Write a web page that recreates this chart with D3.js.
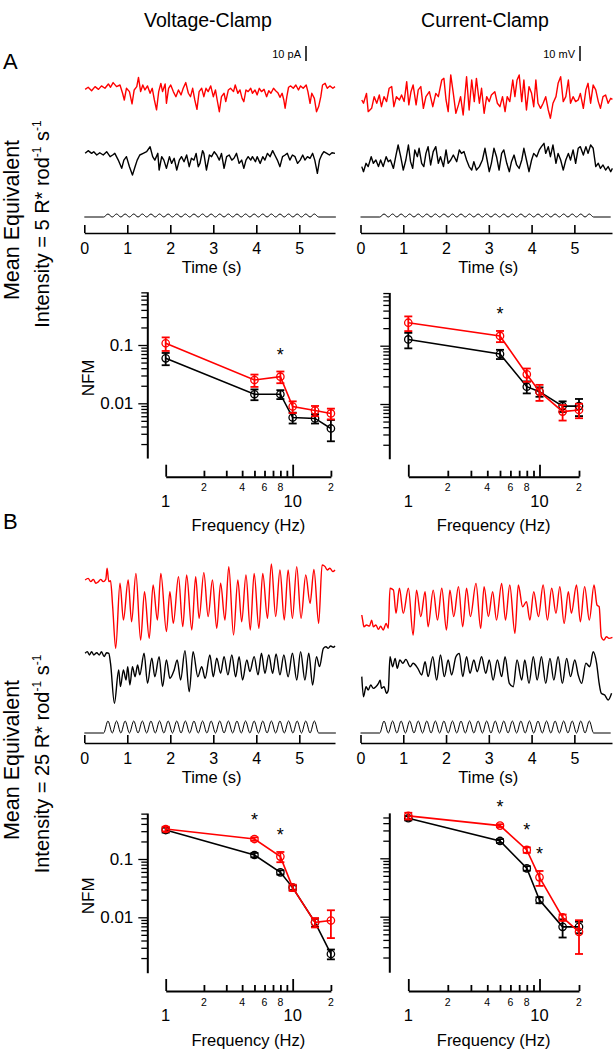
<!DOCTYPE html>
<html><head><meta charset="utf-8">
<script src="https://cdn.jsdelivr.net/npm/d3@7"></script>
<style>body{margin:0;background:#fff}text{font-family:"Liberation Sans",Arial,sans-serif;fill:#000}</style>
</head><body><script>
// ---------------- DATA ----------------
const freqs=[1,5,8,10,15,20];
const xTickVals=[1,2,3,4,5,6,7,8,9,10,20];
const xMinorLabels=[[2,"2"],[4,"4"],[6,"6"],[8,"8"],[20,"2"]];
const xMajorLabels=[[1,"1"],[10,"10"]];
const yLabels=[[0.1,"0.1"],[0.01,"0.01"]];
const timeTicks=[0,1,2,3,4,5];

const nfmVC5_black=[0.059,0.0143,0.0143,0.0057,0.0055,0.0037];
const semVC5_black=[0.014,0.003,0.0025,0.0012,0.001,0.00147];
const nfmVC5_red=[0.107,0.0251,0.0286,0.0088,0.0075,0.0067];
const semVC5_red=[0.028,0.006,0.0065,0.002,0.0015,0.0014];
const nfmCC5_black=[0.128,0.072,0.0198,0.0163,0.0092,0.0092];
const semCC5_black=[0.038,0.013,0.0046,0.003,0.0019,0.003];
const nfmCC5_red=[0.248,0.147,0.0323,0.0163,0.0074,0.0079];
const semCC5_red=[0.07,0.032,0.0083,0.005,0.0022,0.0022];
const nfmVC25_black=[0.314,0.117,0.059,0.0323,0.0082,0.00235];
const semVC25_black=[0.03,0.01,0.005,0.003,0.0013,0.00045];
const nfmVC25_red=[0.327,0.22,0.11,0.0323,0.0082,0.0088];
const semVC25_red=[0.03,0.015,0.022,0.004,0.0015,0.0044];
const nfmCC25_black=[0.485,0.198,0.0674,0.0193,0.0067,0.0067];
const semCC25_black=[0.04,0.015,0.006,0.0023,0.0023,0.0015];
const nfmCC25_red=[0.532,0.363,0.139,0.0472,0.0097,0.0055];
const semCC25_red=[0.07,0.02,0.015,0.0135,0.0012,0.0032];
const sigVC5=[8], sigCC5=[5], sigVC25=[5,8], sigCC25=[5,8,10];

// stimulus (relative units), time in s
const stimT=[0,0.45,0.55,0.65,0.75,0.85,0.95,1.05,1.15,1.25,1.35,1.45,1.55,1.65,1.75,1.85,1.95,2.05,2.15,2.25,2.35,2.45,2.55,2.65,2.75,2.85,2.95,3.05,3.15,3.25,3.35,3.45,3.55,3.65,3.75,3.85,3.95,4.05,4.15,4.25,4.35,4.45,4.55,4.65,4.75,4.85,4.95,5.05,5.15,5.25,5.35,5.45,5.85];
const stimV=[0,0,1,0,1,0,1,0,1,0,1,0,1,0,1,0,1,0,1,0,1,0,1,0,1,0,1,0,1,0,1,0,1,0,1,0,1,0,1,0,1,0,1,0,1,0,1,0,1,0,1,0,0];

// traces: [time (s), value (pA or mV, relative to baseline)]
const traceVC5_red=[[0.02,-0.7],[0.09,0.7],[0.17,-1.6],[0.25,1.1],[0.33,-0.7],[0.40,1.6],[0.48,0],[0.56,2.9],[0.61,0.7],[0.67,3.8],[0.75,1.1],[0.83,2.2],[0.89,-3.3],[0.93,-7.8],[0.98,0],[1.05,-2.2],[1.11,-10.4],[1.16,-1.1],[1.22,1.1],[1.26,7.3],[1.31,-2.2],[1.36,2.2],[1.41,-1.1],[1.47,1.6],[1.53,-3.3],[1.58,0],[1.63,-7.8],[1.68,-14.4],[1.73,-2.2],[1.78,3.3],[1.82,-2.2],[1.88,2.9],[1.91,-10],[1.96,0],[2.01,2.2],[2.07,-2.2],[2.13,-5.6],[2.19,-1.1],[2.25,-4.4],[2.30,0],[2.36,3.8],[2.42,-3.3],[2.47,-5.6],[2.52,0],[2.57,-7.8],[2.62,-14],[2.67,-2.2],[2.73,0],[2.78,-5.6],[2.83,0],[2.88,-2.2],[2.94,1.6],[3.00,-5.6],[3.05,-1.1],[3.09,-7.8],[3.14,-15.6],[3.19,-5.6],[3.25,-3.3],[3.29,-8.9],[3.35,-1.1],[3.40,0],[3.47,-2.2],[3.51,2.2],[3.57,-3.3],[3.62,-1.1],[3.67,-6.7],[3.71,-8.9],[3.76,-1.1],[3.81,-2.2],[3.87,0],[3.91,-3.3],[3.97,-1.1],[4.02,-4.4],[4.07,0],[4.12,-2.2],[4.18,-0.7],[4.24,-5.6],[4.29,-1.6],[4.34,-3.3],[4.40,0],[4.45,-1.6],[4.50,-2.9],[4.55,-6],[4.60,-3.3],[4.64,-7.8],[4.67,-13.3],[4.71,-5.6],[4.75,0.7],[4.80,1.6],[4.86,0],[4.92,2.2],[4.98,-1.1],[5.03,1.6],[5.09,0],[5.16,2.2],[5.20,-2.2],[5.25,-10],[5.29,-3.3],[5.35,-6.7],[5.40,-15.6],[5.45,-12.2],[5.50,-5.6],[5.54,2.2],[5.60,3.3],[5.65,0],[5.71,1.6],[5.78,0],[5.83,1.1]];
const traceVC5_black=[[0.02,-1.1],[0.09,0.7],[0.17,-1.1],[0.22,0],[0.29,-2.2],[0.36,-0.7],[0.44,-2.2],[0.52,0],[0.60,-3.3],[0.66,-2.2],[0.71,-1.1],[0.79,-5.6],[0.87,-11.1],[0.92,-5.6],[0.98,-3.3],[1.05,-10],[1.12,-15.6],[1.18,-10],[1.23,-5.6],[1.29,-2.2],[1.37,-1.1],[1.45,0],[1.53,3.3],[1.59,-3.3],[1.64,-5.6],[1.71,-1.1],[1.74,-12.2],[1.80,-3.3],[1.85,-5.6],[1.91,-11.1],[1.98,-3.3],[2.03,-7.8],[2.09,-4.4],[2.15,-12.2],[2.21,-5.6],[2.26,-3.3],[2.32,-6.7],[2.38,-2.2],[2.44,-10],[2.49,-4.4],[2.55,-5.6],[2.60,-1.1],[2.65,-10],[2.69,-7.8],[2.75,0.7],[2.78,-1.1],[2.84,-12.2],[2.91,-2.2],[2.96,-3.3],[3.02,0],[3.08,-2.2],[3.14,-5.6],[3.19,-1.1],[3.25,-11.1],[3.31,-3.3],[3.37,-2.2],[3.43,-5.6],[3.48,-4.4],[3.54,-1.1],[3.60,-7.8],[3.66,-5.6],[3.71,-11.1],[3.76,-5.6],[3.81,-3.3],[3.87,-5.6],[3.91,-3.3],[3.98,-6.7],[4.02,-3.3],[4.09,-7.8],[4.15,-3.3],[4.20,-5.6],[4.26,-1.1],[4.32,-3.3],[4.38,0.7],[4.43,-2.2],[4.49,-5.6],[4.55,-10],[4.61,-3.3],[4.67,-2.2],[4.72,-1.1],[4.78,-5.6],[4.84,-2.2],[4.90,-3.3],[4.96,-7.8],[5.02,-5.6],[5.08,-2.2],[5.13,-5.6],[5.19,-3.3],[5.25,-4.4],[5.31,-1.1],[5.36,-5.6],[5.42,-14.4],[5.47,-5.6],[5.52,-2.2],[5.57,0],[5.64,-1.1],[5.70,-2.2],[5.76,-0.7],[5.83,-1.1]];
const traceCC5_red=[[0.03,-1.1],[0.07,-3.3],[0.14,3.3],[0.18,-8.9],[0.26,-6.7],[0.32,1.1],[0.38,-3.3],[0.44,2.2],[0.49,-5.6],[0.55,1.1],[0.61,-2.2],[0.67,6.7],[0.73,7.8],[0.78,-5.6],[0.84,1.1],[0.91,-1.1],[0.96,2.2],[1.02,-2.2],[1.08,11.1],[1.13,-4.4],[1.18,4.4],[1.23,8.9],[1.30,-4.4],[1.35,5.6],[1.41,7.8],[1.47,-6.7],[1.53,1.1],[1.61,4.4],[1.69,-5.6],[1.76,3.3],[1.82,1.1],[1.90,12.2],[1.95,13.3],[2.00,-1.1],[2.05,-8.9],[2.11,15.6],[2.17,3.3],[2.23,-10],[2.29,-4.4],[2.34,1.1],[2.40,-11.1],[2.48,14.4],[2.54,-7.8],[2.60,12.2],[2.66,-2.2],[2.71,13.3],[2.78,-3.3],[2.83,6.7],[2.89,-10],[2.95,1.1],[3.01,-2.2],[3.06,2.2],[3.14,4.4],[3.20,-3.3],[3.26,-5.6],[3.32,1.1],[3.38,-8.9],[3.43,1.1],[3.49,-2.2],[3.56,12.2],[3.61,1.1],[3.66,12.2],[3.71,15.6],[3.77,-2.2],[3.82,12.2],[3.88,-7.8],[3.94,7.8],[4.00,3.3],[4.05,-5.6],[4.10,12.2],[4.15,-3.3],[4.21,-6.7],[4.27,-3.3],[4.33,1.1],[4.39,-7.8],[4.44,-13.3],[4.50,-3.3],[4.57,1.1],[4.62,10],[4.68,14.4],[4.74,-2.2],[4.80,1.1],[4.86,12.2],[4.91,-3.3],[4.97,1.1],[5.03,-2.2],[5.09,-1.1],[5.14,3.3],[5.21,-6.7],[5.27,5.6],[5.32,10],[5.38,-3.3],[5.44,8.9],[5.50,5.6],[5.56,-2.2],[5.61,-6.7],[5.67,1.1],[5.73,2.2],[5.79,-3.3],[5.85,0],[5.89,-0.7]];
const traceCC5_black=[[0.03,-4.4],[0.07,-7.8],[0.13,-2.2],[0.18,-4.4],[0.25,2.2],[0.30,-2.2],[0.36,0],[0.42,-4.4],[0.47,0],[0.53,-4.4],[0.60,2.2],[0.65,-1.1],[0.70,0],[0.77,-5.6],[0.83,3.3],[0.88,10],[0.94,2.2],[1.00,-6.7],[1.06,0],[1.12,10],[1.17,-1.1],[1.22,-5.6],[1.27,6.7],[1.33,2.2],[1.37,7.8],[1.43,-2.2],[1.48,-4.4],[1.53,4.4],[1.58,8.9],[1.64,-3.3],[1.70,5.6],[1.76,8.9],[1.82,-2.2],[1.87,2.2],[1.94,-4.4],[2.00,6.7],[2.05,-2.2],[2.11,0],[2.17,3.3],[2.25,-1.1],[2.31,6.7],[2.36,4.4],[2.42,5.6],[2.48,0],[2.54,-4.4],[2.60,-6.7],[2.65,-1.1],[2.71,-6.7],[2.78,-4.4],[2.85,0],[2.91,7.8],[2.96,0],[3.01,-7.8],[3.06,-2.2],[3.12,7.8],[3.18,2.2],[3.24,-6.7],[3.30,4.4],[3.35,6.7],[3.42,-2.2],[3.48,-7.8],[3.53,-1.1],[3.59,3.3],[3.65,-3.3],[3.71,-5.6],[3.77,0],[3.82,7.8],[3.88,0],[3.94,-7.8],[4.00,0],[4.05,4.4],[4.12,2.2],[4.18,6.7],[4.23,8.9],[4.29,11.1],[4.33,4.4],[4.39,8.9],[4.44,2.2],[4.50,10],[4.57,-2.2],[4.62,4.4],[4.68,0],[4.74,-6.7],[4.80,0],[4.86,4.4],[4.91,0],[4.97,6.7],[5.03,-2.2],[5.09,7.8],[5.14,8.9],[5.21,3.3],[5.27,8.9],[5.32,4.4],[5.38,10],[5.44,7.8],[5.50,-4.4],[5.56,-2.2],[5.61,-5.6],[5.67,-3.3],[5.73,-6.7],[5.79,-4.4],[5.85,-7.8],[5.89,-5.6]];
const traceVC25_red=[[0.02,0],[0.09,1.1],[0.15,-1.1],[0.21,0.4],[0.27,-2.2],[0.33,-1.1],[0.38,0.4],[0.44,-1.1],[0.50,0.4],[0.53,7.8],[0.57,-1.1],[0.61,-0.4],[0.66,-17.8],[0.73,-45.6],[0.83,-2.2],[0.91,-26.7],[1.02,0],[1.10,-27.8],[1.20,4.4],[1.31,-40],[1.40,-7.8],[1.51,-38.9],[1.60,-3.3],[1.70,-26.7],[1.78,4.4],[1.91,-34.4],[1.99,-7.8],[2.07,-28.9],[2.19,2.2],[2.29,-31.1],[2.38,3.3],[2.50,-33.3],[2.59,2.2],[2.67,-25.6],[2.78,4.9],[2.88,-24.4],[2.98,0],[3.08,-32.2],[3.17,-2.2],[3.27,-26.7],[3.36,8.9],[3.47,-36.7],[3.57,0],[3.66,-27.8],[3.76,3.3],[3.86,-33.3],[3.95,4.4],[4.06,-32.2],[4.15,4.4],[4.26,-25.6],[4.35,10.7],[4.45,-24.4],[4.55,6.7],[4.65,-26.7],[4.74,6.7],[4.84,-25.6],[4.94,8.9],[5.04,-25.6],[5.15,3.3],[5.25,-15.6],[5.34,7.1],[5.45,-28.9],[5.53,10],[5.60,8.9],[5.65,6.7],[5.71,7.8],[5.78,5.6],[5.83,6.7]];
const traceVC25_black=[[0.02,0],[0.07,1.1],[0.12,-1.1],[0.17,1.1],[0.22,-1.1],[0.29,0.4],[0.35,-1.1],[0.40,1.1],[0.46,-2.2],[0.52,0.4],[0.57,0],[0.61,-6.7],[0.70,-33.3],[0.80,-11.1],[0.84,-22.2],[0.91,-11.1],[0.97,-17.8],[1.01,-8.9],[1.06,-21.1],[1.12,-8.9],[1.18,-15.6],[1.24,-7.8],[1.29,-14.4],[1.39,0],[1.47,-20],[1.57,-3.3],[1.64,-15.6],[1.74,-2.2],[1.82,-22.2],[1.91,-4.4],[1.99,-16.7],[2.09,-11.1],[2.16,-4.4],[2.24,-17.8],[2.34,1.8],[2.44,-25.6],[2.53,1.1],[2.64,-15.6],[2.73,-8.9],[2.81,-16.7],[2.92,-1.1],[3.00,-15.6],[3.08,-3.3],[3.17,-13.3],[3.25,-2.2],[3.34,-14.4],[3.43,-1.1],[3.52,-15.6],[3.60,-2.2],[3.68,-17.8],[3.78,-4.4],[3.85,-12.2],[3.95,-2.2],[4.04,-14.4],[4.12,0],[4.20,-13.3],[4.29,-1.1],[4.38,-13.3],[4.46,-0.4],[4.55,-14.4],[4.64,-1.1],[4.74,-15.6],[4.84,0],[4.94,-17.8],[5.03,1.1],[5.13,-17.8],[5.22,0],[5.31,-21.1],[5.40,-2.2],[5.47,-8.9],[5.56,3.3],[5.62,4.4],[5.67,3.3],[5.73,4.9],[5.79,4],[5.83,4.9]];
const traceCC25_red=[[0.03,7.8],[0.05,4.4],[0.08,0],[0.14,1.1],[0.21,0.4],[0.26,4.4],[0.30,0],[0.36,1.1],[0.42,-1.8],[0.47,0.4],[0.53,-2.2],[0.60,2.2],[0.65,-1.1],[0.69,25.6],[0.77,24.4],[0.83,8.9],[0.91,25.6],[1.00,8.9],[1.12,25.6],[1.23,-5.6],[1.31,24.4],[1.41,6.7],[1.51,23.3],[1.58,0],[1.70,24.4],[1.80,4.4],[1.90,25.6],[2.01,-2.2],[2.09,24.4],[2.18,6.7],[2.29,26.7],[2.39,0],[2.48,25.6],[2.57,6.7],[2.70,28.9],[2.81,-1.1],[2.89,26.7],[2.99,6.7],[3.09,23.3],[3.18,4.4],[3.30,28.9],[3.39,4.4],[3.49,27.8],[3.61,-4.4],[3.69,27.8],[3.79,13.3],[3.88,16.7],[3.96,4.4],[4.05,23.3],[4.16,6.7],[4.27,27.8],[4.37,4.4],[4.47,25.6],[4.57,8.9],[4.66,26.7],[4.76,2.2],[4.86,23.3],[4.93,8.9],[5.05,27.8],[5.14,3.3],[5.24,26.7],[5.35,4.4],[5.46,27.8],[5.53,14.4],[5.58,13.3],[5.63,-6.7],[5.69,-8.9],[5.75,-6.7],[5.81,-7.8],[5.89,-7.1]];
const traceCC25_black=[[0.03,6.7],[0.07,-6.7],[0.13,0],[0.18,-2.2],[0.24,1.1],[0.30,-1.1],[0.36,0],[0.42,2.2],[0.46,4.4],[0.49,-1.1],[0.55,0],[0.61,-4.4],[0.65,-2.2],[0.69,20],[0.75,13.3],[0.81,18.9],[0.86,12.2],[0.92,17.8],[0.99,15.6],[1.06,18.2],[1.16,13.3],[1.23,15.6],[1.34,12.2],[1.43,7.8],[1.51,16.7],[1.58,6.7],[1.69,20],[1.78,4.4],[1.87,21.1],[1.96,6.7],[2.05,17.8],[2.13,7.8],[2.23,20],[2.31,22.2],[2.39,6.7],[2.48,20],[2.56,8.9],[2.65,17.8],[2.73,10],[2.83,20],[2.93,8.9],[3.01,17.8],[3.10,4.4],[3.20,17.8],[3.30,6.7],[3.38,20],[3.48,2.2],[3.57,0],[3.66,17.8],[3.77,4.4],[3.84,17.8],[3.94,2.2],[4.04,20],[4.13,4.4],[4.23,20],[4.33,2.2],[4.43,18.9],[4.52,4.4],[4.62,20],[4.72,2.2],[4.82,18.9],[4.91,6.7],[5.01,17.8],[5.09,7.8],[5.17,2.2],[5.27,15.6],[5.36,13.3],[5.44,23.3],[5.52,15.6],[5.58,2.2],[5.63,-4.4],[5.71,-5.6],[5.79,-8.9],[5.87,-4.4]];

// ---------------- DRAW ----------------
const RED="#ff0000";
const svg=d3.select("body").append("svg").attr("width",613).attr("height",1050);

function txt(x,y,s,size,anchor){return svg.append("text").attr("x",x).attr("y",y).attr("font-size",size).attr("text-anchor",anchor||"start").text(s);}

txt(208,27,"Voltage-Clamp",19.5,"middle");
txt(485,27,"Current-Clamp",19.5,"middle");
txt(3,69,"A",22);
txt(3,529,"B",22);

function sideLabel(cx,cy,num){
  const g=svg.append("g").attr("transform",`translate(${cx},${cy}) rotate(-90)`);
  g.append("text").attr("x",4).attr("y",-30).attr("font-size",21.5).attr("text-anchor","middle").text("Mean Equivalent");
  const t=g.append("text").attr("x",0).attr("y",0).attr("font-size",20).attr("text-anchor","middle");
  t.append("tspan").text(`Intensity = ${num} R* rod`);
  t.append("tspan").attr("font-size",12).attr("dy",-8).text("-1");
  t.append("tspan").attr("dy",8).text(" s");
  t.append("tspan").attr("font-size",12).attr("dy",-8).text("-1");
}
sideLabel(49,224,"5");
sideLabel(49,764,"25");

function tracePanel(o){
  const x=d3.scaleLinear().domain([0,o.tMax]).range([o.x0,o.x1]);
  o.traces.forEach(tr=>{
    const y=d3.scaleLinear().domain([0,10]).range([tr.base,tr.base-15]);
    svg.append("path").datum(tr.data).attr("fill","none").attr("stroke",tr.color).attr("stroke-width",1.4)
      .attr("stroke-linejoin","round")
      .attr("d",d3.line().x(d=>x(d[0])).y(d=>y(d[1])).curve(o.curve)(tr.data));
  });
  const ys=d3.scaleLinear().domain([0,1]).range([o.stimBase,o.stimBase-o.stimAmp]);
  const sd=stimT.map((t,i)=>[t,stimV[i]]);
  svg.append("path").attr("fill","none").attr("stroke","#000").attr("stroke-width",1)
    .attr("d",d3.line().x(d=>x(d[0])).y(d=>ys(d[1])).curve(d3.curveMonotoneX)(sd));
  const ax=svg.append("g").attr("transform",`translate(0,${o.axisY})`)
    .call(d3.axisBottom(x).tickValues(timeTicks).tickSizeInner(-8).tickSizeOuter(0).tickPadding(10).tickFormat(d3.format("d")));
  ax.select(".domain").attr("stroke-width",1.6);
  ax.selectAll(".tick line").attr("stroke-width",1.6);
  ax.selectAll(".tick text").attr("font-size",16).attr("font-family","Liberation Sans, Arial, sans-serif");
  txt((o.x0+o.x1)/2+2,o.axisY+40,"Time (s)",16.5,"middle");
  if(o.bar){
    const y=d3.scaleLinear().domain([0,10]).range([o.bar.y,o.bar.y-15]);
    svg.append("line").attr("x1",o.bar.x).attr("x2",o.bar.x).attr("y1",y(0)).attr("y2",y(10)).attr("stroke","#000").attr("stroke-width",1.5);
    txt(o.bar.x-5,o.bar.y-3,o.bar.label,11,"end");
  }
}

tracePanel({tMax:5.83,x0:84.3,x1:335,curve:d3.curveLinear,stimBase:217,stimAmp:3,axisY:233,
  bar:{x:306,y:61,label:"10 pA"},
  traces:[{data:traceVC5_red,base:88.3,color:RED},{data:traceVC5_black,base:151.7,color:"#000"}]});
tracePanel({tMax:5.88,x0:360.5,x1:612,curve:d3.curveLinear,stimBase:217,stimAmp:3,axisY:233,
  bar:{x:580,y:61,label:"10 mV"},
  traces:[{data:traceCC5_red,base:98.3,color:RED},{data:traceCC5_black,base:160,color:"#000"}]});
tracePanel({tMax:5.83,x0:84.3,x1:335,curve:d3.curveMonotoneX,stimBase:733,stimAmp:12,axisY:743,
  traces:[{data:traceVC25_red,base:580,color:RED},{data:traceVC25_black,base:653.3,color:"#000"}]});
tracePanel({tMax:5.88,x0:360.5,x1:612,curve:d3.curveMonotoneX,stimBase:733,stimAmp:12,axisY:743,
  traces:[{data:traceCC25_red,base:626.7,color:RED},{data:traceCC25_black,base:686.7,color:"#000"}]});

function nfmPanel(o){
  const x=d3.scaleLog().domain([1,20]).range([o.x1,o.x20]);
  const dec=o.y001-o.y01;
  const yAt=v=>o.y01-(Math.log10(v)+1)*dec;
  const y=d3.scaleLog().domain([o.lo,o.hi]).range([yAt(o.lo),yAt(o.hi)]);
  const xa=svg.append("g").attr("transform",`translate(0,${o.xAxisY})`)
    .call(d3.axisBottom(x).tickValues(xTickVals).tickSizeInner(-6).tickSizeOuter(0).tickFormat(""));
  xa.select(".domain").attr("stroke-width",2);
  xa.selectAll(".tick line").attr("stroke-width",1.8).attr("y2",d=>(d===1||d===10)?-12:-6);
  xMinorLabels.forEach(([v,s])=>txt(x(v),o.xAxisY+14.5,s,10.5,"middle"));
  xMajorLabels.forEach(([v,s])=>txt(x(v),o.xAxisY+30,s,16.5,"middle"));
  txt((o.x1+o.x20)/2,o.xAxisY+54.5,"Frequency (Hz)",16.5,"middle");
  const yt=[];
  [-3,-2,-1].forEach(k=>{for(let m=1;m<=9;m++){const v=m*Math.pow(10,k);if(v>=o.lo&&v<=o.hi)yt.push(v);}});
  const ya=svg.append("g").attr("transform",`translate(${o.yAxisX},0)`)
    .call(d3.axisLeft(y).tickValues(yt).tickSizeInner(6).tickSizeOuter(0).tickFormat(""));
  ya.select(".domain").attr("stroke-width",2);
  ya.selectAll(".tick line").attr("stroke-width",1.3).attr("x2",d=>{const l=Math.log10(d);return Math.abs(l-Math.round(l))<1e-6?-9:-6;});
  if(o.labels){
    yLabels.forEach(([v,s])=>txt(o.yAxisX-14,y(v)+6,s,17,"end"));
    svg.append("text").attr("transform",`translate(94,${(yAt(o.lo)+yAt(o.hi))/2+3}) rotate(-90)`)
      .attr("font-size",17).attr("text-anchor","middle").text("NFM");
  }
  o.series.forEach(s=>{
    const g=svg.append("g").attr("stroke",s.color).attr("fill","none");
    const pts=freqs.map((f,i)=>[f,s.m[i],s.e[i]]);
    g.append("path").attr("stroke-width",1.6).attr("d",d3.line().x(d=>x(d[0])).y(d=>y(d[1]))(pts));
    pts.forEach(d=>{
      const cx=x(d[0]),yt=y(d[1]+d[2]),yb=y(Math.max(d[1]-d[2],o.lo));
      g.append("line").attr("x1",cx).attr("x2",cx).attr("y1",yt).attr("y2",yb).attr("stroke-width",1.8);
      g.append("line").attr("x1",cx-4).attr("x2",cx+4).attr("y1",yt).attr("y2",yt).attr("stroke-width",1.8);
      g.append("line").attr("x1",cx-4).attr("x2",cx+4).attr("y1",yb).attr("y2",yb).attr("stroke-width",1.8);
      g.append("circle").attr("cx",cx).attr("cy",y(d[1])).attr("r",3.7).attr("stroke-width",1.3);
    });
  });
  const red=o.series[1];
  o.sig.forEach(f=>{
    const i=freqs.indexOf(f);
    txt(x(f),y(red.m[i]+red.e[i])-11,"*",18,"middle");
  });
}

nfmPanel({x1:165.7,x20:330.9,y01:345,y001:403.3,lo:0.00115,hi:0.82,xAxisY:476.7,yAxisX:147.3,labels:true,sig:sigVC5,
  series:[{m:nfmVC5_black,e:semVC5_black,color:"#000"},{m:nfmVC5_red,e:semVC5_red,color:RED}]});
nfmPanel({x1:408.3,x20:579,y01:345.7,y001:404,lo:0.00115,hi:0.82,xAxisY:476.7,yAxisX:389.3,labels:false,sig:sigCC5,
  series:[{m:nfmCC5_black,e:semCC5_black,color:"#000"},{m:nfmCC5_red,e:semCC5_red,color:RED}]});
nfmPanel({x1:165.7,x20:330.9,y01:859,y001:917.3,lo:0.00112,hi:0.615,xAxisY:991,yAxisX:147.3,labels:true,sig:sigVC25,
  series:[{m:nfmVC25_black,e:semVC25_black,color:"#000"},{m:nfmVC25_red,e:semVC25_red,color:RED}]});
nfmPanel({x1:408.3,x20:579,y01:858.3,y001:916.7,lo:0.00112,hi:0.6,xAxisY:991,yAxisX:389.3,labels:false,sig:sigCC25,
  series:[{m:nfmCC25_black,e:semCC25_black,color:"#000"},{m:nfmCC25_red,e:semCC25_red,color:RED}]});
</script></body></html>
